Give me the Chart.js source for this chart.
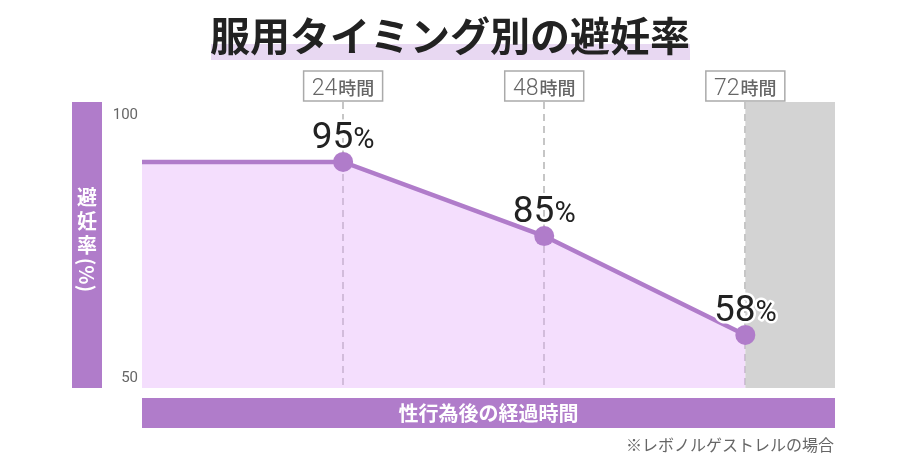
<!DOCTYPE html>
<html>
<head>
<meta charset="utf-8">
<script src="https://cdn.jsdelivr.net/npm/chart.js@4.4.1/dist/chart.umd.min.js"></script>
<style>
  html, body { margin: 0; padding: 0; background: #fff; }
  #wrap { width: 900px; height: 472px; }
</style>
</head>
<body>
<div id="wrap"><canvas id="c" width="900" height="472"></canvas></div>
<script>
// data
const hours = [0, 24, 48, 72];
const plotted = [91.1, 91.1, 77.0, 58.2];    // heights as drawn in the reference
const rateLabels = [null, '95', '85', '58']; // printed values (%)
const markHours = [24, 48, 72];
const yTicks = [50, 100];

const TITLE = '服用タイミング別の避妊率';
const X_TITLE = '性行為後の経過時間';
const Y_TITLE = '避妊率';
const NOTE = '※レボノルゲストレルの場合';

const PURPLE = '#b07cca';
const JP = "'Noto Sans CJK JP', 'Noto Sans', sans-serif";
const NUM = "Roboto, 'Noto Sans CJK JP', sans-serif";

// gray "too late" zone after 72h
const zonePlugin = {
  id: 'zone',
  beforeDraw(chart) {
    const { ctx, chartArea: a, scales: { x } } = chart;
    const x72 = x.getPixelForValue(72);
    ctx.save();
    ctx.fillStyle = '#d3d3d3';
    ctx.fillRect(x72, a.top, a.right - x72, a.bottom - a.top);
    ctx.restore();
  },
};

const decoPlugin = {
  id: 'deco',
  afterDraw(chart) {
    const { ctx, chartArea: a, scales: { x } } = chart;
    ctx.save();

    // title with highlight band
    ctx.fillStyle = '#e8d8f2';
    ctx.fillRect(211, 44, 479, 16);
    ctx.fillStyle = '#222';
    ctx.font = `bold 40px ${JP}`;
    ctx.textAlign = 'center';
    ctx.textBaseline = 'middle';
    ctx.fillText(TITLE, 450, 36);

    // y band
    ctx.fillStyle = PURPLE;
    ctx.fillRect(72, a.top, 30, a.bottom - a.top);
    ctx.fillStyle = '#fff';
    ctx.font = `bold 20px ${JP}`;
    [...Y_TITLE].forEach((ch, i) => ctx.fillText(ch, 87, 197 + i * 24));
    ctx.save();
    ctx.translate(87, 275);
    ctx.rotate(Math.PI / 2);
    ctx.fillText('(%)', 0, 0);
    ctx.restore();

    // x band
    ctx.fillStyle = PURPLE;
    ctx.fillRect(a.left, a.bottom + 10, a.right - a.left, 30);
    ctx.fillStyle = '#fff';
    ctx.font = `bold 20px ${JP}`;
    ctx.fillText(X_TITLE, (a.left + a.right) / 2, a.bottom + 25);

    // note
    ctx.fillStyle = '#666';
    ctx.font = `16px ${JP}`;
    ctx.textAlign = 'right';
    ctx.fillText(NOTE, 834, 445);

    // hour boxes
    markHours.forEach(h => {
      const px = x.getPixelForValue(h);
      const bw = 79, bh = 30, top = 71;
      ctx.fillStyle = '#fff';
      ctx.fillRect(px - bw / 2, top, bw, bh);
      ctx.strokeStyle = '#aaa';
      ctx.lineWidth = 1.5;
      ctx.strokeRect(px - bw / 2, top, bw, bh);

      ctx.font = `300 23px ${NUM}`;
      const w1 = ctx.measureText(String(h)).width;
      ctx.font = `500 18px ${JP}`;
      const w2 = ctx.measureText('時間').width;
      let sx = px - (w1 + w2 + 1) / 2;
      ctx.textAlign = 'left';
      ctx.textBaseline = 'alphabetic';
      ctx.fillStyle = '#666';
      ctx.font = `300 23px ${NUM}`;
      ctx.fillText(String(h), sx, 95);
      ctx.font = `500 18px ${JP}`;
      ctx.fillText('時間', sx + w1 + 1, 95);
    });

    // value labels
    const meta = chart.getDatasetMeta(0);
    meta.data.forEach((pt, i) => {
      const num = rateLabels[i];
      if (!num) return;
      ctx.font = `37px ${NUM}`;
      const w1 = ctx.measureText(num).width;
      ctx.font = `29px ${NUM}`;
      const w2 = ctx.measureText('%').width;
      const sx = pt.x - (w1 + w2) / 2;
      const by = pt.y - 14;
      ctx.textAlign = 'left';
      ctx.textBaseline = 'alphabetic';
      ctx.lineJoin = 'round';
      ctx.strokeStyle = '#fff';
      ctx.lineWidth = 5;
      ctx.fillStyle = '#222';
      ctx.font = `37px ${NUM}`;
      ctx.strokeText(num, sx, by);
      ctx.fillText(num, sx, by);
      ctx.font = `29px ${NUM}`;
      ctx.strokeText('%', sx + w1, by);
      ctx.fillText('%', sx + w1, by);
    });

    ctx.restore();
  },
};

new Chart(document.getElementById('c'), {
  type: 'line',
  data: {
    datasets: [{
      data: hours.map((h, i) => ({ x: h, y: plotted[i] })),
      borderColor: PURPLE,
      borderWidth: 4.5,
      backgroundColor: 'rgba(228,172,250,0.4)',
      fill: 'start',
      tension: 0,
      pointRadius: [0, 10, 10, 10],
      pointHoverRadius: [0, 10, 10, 10],
      pointBackgroundColor: PURPLE,
      pointBorderWidth: 0,
    }],
  },
  options: {
    responsive: false,
    animation: false,
    layout: { padding: { left: 100, top: 102, right: 65, bottom: 84 } },
    plugins: {
      legend: { display: false },
      tooltip: { enabled: false },
      title: { display: false },
    },
    scales: {
      x: {
        type: 'linear',
        min: 0,
        max: 82.7,
        afterBuildTicks: s => { s.ticks = markHours.map(v => ({ value: v })); },
        afterFit: s => { s.height = 0; },
        ticks: { display: false },
        grid: {
          color: '#c6c6c6',
          lineWidth: 2,
          drawTicks: false,
        },
        border: { display: false, dash: [7, 5] },
      },
      y: {
        min: 48.1,
        max: 102.5,
        afterBuildTicks: s => { s.ticks = yTicks.map(v => ({ value: v })); },
        afterFit: s => { s.width = 42; },
        grid: { display: false, drawTicks: false },
        border: { display: false },
        ticks: {
          padding: 4,
          color: '#666',
          font: { family: 'Roboto', size: 15 },
        },
      },
    },
  },
  plugins: [zonePlugin, decoPlugin],
});
</script>
</body>
</html>
